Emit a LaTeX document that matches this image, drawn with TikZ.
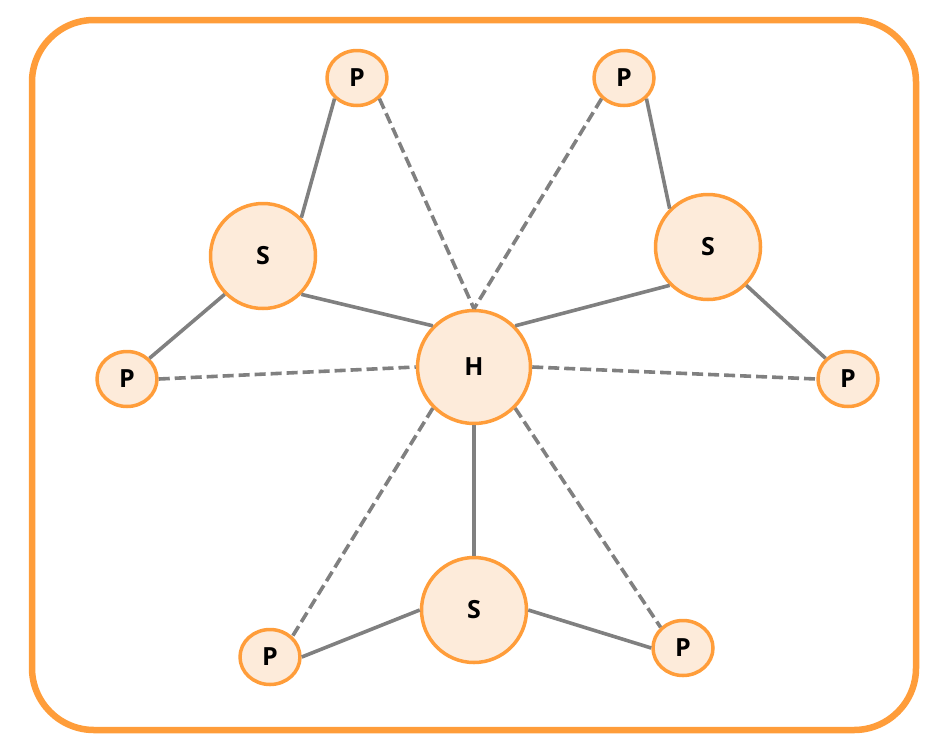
\documentclass[tikz,border=0pt]{standalone}
\usepackage{fontspec}
\usepackage{xcolor}
\usepackage{tikz}
\usetikzlibrary{shapes.geometric}
\newfontfamily\labelfont{Open Sans}
\definecolor{frameorange}{HTML}{FF9D3A}
\definecolor{nodefill}{HTML}{FDEBDA}
\definecolor{linkgray}{HTML}{808080}

\begin{document}
\begin{tikzpicture}[line cap=butt,line join=round,x=1pt,y=-1pt,
		vertex/.style={ellipse,draw=frameorange,fill=nodefill,line width=3.5pt,inner sep=0pt,
			font=\labelfont\bfseries\fontsize{25}{29}\selectfont},
		hub/.style={vertex,minimum width=113pt,minimum height=113pt},
		sat/.style={vertex,minimum width=105pt,minimum height=105pt},
		leaf/.style={vertex,minimum width=60pt,minimum height=55pt},
		link/.style={draw=linkgray,line width=3.6pt},
		weak/.style={link,dash pattern=on 11pt off 5pt}]
		\useasboundingbox (0,0) rectangle (944,755);
		\draw [frameorange,line width=6.5pt,rounded corners=62pt] (32,20) rectangle (916,730);
		% nodes
		\node [hub] (h) at (474,367) {H};
		\node [sat] (sa) at (263,256) {S};
		\node [sat] (sb) at (708,247) {S};
		\node [sat] (sc) at (474,610) {S};
		\node [leaf] (pa) at (357,78) {P};
		\node [leaf] (pb) at (624,78) {P};
		\node [leaf] (pc) at (127,379) {P};
		\node [leaf] (pd) at (848,379) {P};
		\node [leaf] (pe) at (270,657) {P};
		\node [leaf] (pf) at (683,648) {P};
		% solid links
		\draw [link] (sa.north east) -- (pa.south west);
		\draw [link] (sa.south west) -- (pc.north east);
		\draw [link] (sa.south east) -- (h.north west);
		\draw [link] (sb.north west) -- (pb.south east);
		\draw [link] (sb.south west) -- (h.north east);
		\draw [link] (sb.south east) -- (pd.north west);
		\draw [link] (h.south) -- (sc.north);
		\draw [link] (sc.west) -- (pe.east);
		\draw [link] (sc.east) -- (pf.west);
		% dashed links
		\draw [weak] (pa.south east) -- (h.north);
		\draw [weak] (pb.south west) -- (h.north);
		\draw [weak] (pc.east) -- (h.west);
		\draw [weak] (h.east) -- (pd.west);
		\draw [weak] (h.south west) -- (pe.north east);
		\draw [weak] (h.south east) -- (pf.north west);
	\end{tikzpicture}
\end{document}
